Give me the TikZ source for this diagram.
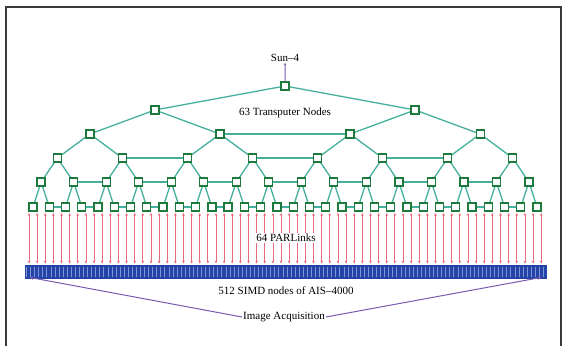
\documentclass[tikz,border=0pt]{standalone}
\usepackage{fontspec}
\setmainfont{Liberation Serif}
\usetikzlibrary{arrows.meta,calc}
\definecolor{sqgreen}{HTML}{1E7A3C}
\definecolor{edgeteal}{HTML}{45B09E}
\definecolor{linkred}{HTML}{E86A7E}
\definecolor{barblue}{HTML}{2444A8}
\definecolor{barstripe}{HTML}{8094D8}
\definecolor{acqpurple}{HTML}{7A5AB0}
\definecolor{framegray}{HTML}{3A3A3A}
\tikzset{
  sq/.style={draw=sqgreen, fill=white, minimum size=8pt, inner sep=0pt, line width=1.3pt},
  treeedge/.style={draw=edgeteal, line width=1.3pt},
  parlink/.style={draw=linkred, line width=0.8pt, {Stealth[length=2.8pt,width=2.6pt]}-{Stealth[length=2.8pt,width=2.6pt]}},
  acq/.style={draw=acqpurple, line width=1pt},
  lbl/.style={font=\fontsize{11}{13}\selectfont, text=black, inner sep=1pt}
}
\begin{document}
\begin{tikzpicture}[x=1pt,y=-1pt]
\useasboundingbox (0,0) rectangle (566,346);
\fill[white] (0,0) rectangle (566,346);
% frame
\draw[framegray, line width=1.6pt] (6,346) -- (6,7) -- (561,7) -- (561,346);
% tree nodes
\foreach \L/\yy in {0/86,1/110,2/134,3/158,4/182,5/207}{
  \pgfmathtruncatemacro{\nmax}{2^\L-1}
  \foreach \i in {0,...,\nmax}{
    \pgfmathsetmacro{\w}{16.26*2^(5-\L)}
    \pgfmathsetmacro{\xx}{33+(\w-16.26)/2+\i*\w}
    \coordinate (c-\L-\i) at (\xx,\yy);
  }
}
% tree edges
\foreach \L in {0,...,4}{
  \pgfmathtruncatemacro{\nmax}{2^\L-1}
  \pgfmathtruncatemacro{\Lc}{\L+1}
  \foreach \i in {0,...,\nmax}{
    \pgfmathtruncatemacro{\a}{2*\i}
    \pgfmathtruncatemacro{\b}{2*\i+1}
    \draw[treeedge] (c-\L-\i) -- (c-\Lc-\a);
    \draw[treeedge] (c-\L-\i) -- (c-\Lc-\b);
  }
}
% horizontal cross links
\foreach \L in {2,...,5}{
  \pgfmathtruncatemacro{\kmax}{2^(\L-1)-2}
  \foreach \k in {0,...,\kmax}{
    \pgfmathtruncatemacro{\a}{2*\k+1}
    \pgfmathtruncatemacro{\b}{2*\k+2}
    \draw[treeedge] (c-\L-\a) -- (c-\L-\b);
  }
}
% squares on top
\foreach \L in {0,...,5}{
  \pgfmathtruncatemacro{\nmax}{2^\L-1}
  \foreach \i in {0,...,\nmax}{
    \node[sq] (n-\L-\i) at (c-\L-\i) {};
  }
}
% Sun-4
\node[lbl] (sun) at (285,58) {Sun–4};
\draw[acq, -{Stealth[length=2.5pt,width=2.5pt]}] (n-0-0.north) -- (sun.south);
\node[lbl] (tn) at (285,113) {63 Transputer Nodes};
% SIMD bar
\node[draw=barblue, fill=barblue, minimum width=521pt, minimum height=13pt, inner sep=0pt, line width=0.8pt] (bar) at (285.5,271.5) {};
\foreach \s in {0,...,127}{
  \draw[barstripe, line width=1pt] ($(bar.north west)+(2+\s*4.07,2)$) -- ($(bar.south west)+(2+\s*4.07,-1.5)$);
}
% PAR links
\foreach \j in {0,...,63}{
  \pgfmathsetmacro{\xx}{29+\j*8.13}
  \coordinate (pt-\j) at (\xx,213);
  \coordinate (pb-\j) at (\xx,263.5);
  \draw[parlink] (pt-\j) -- (pb-\j);
}
\node[lbl, fill=white] (par) at (286,238) {64 PARLinks};
\node[lbl] (simd) at (286,291) {512 SIMD nodes of AIS–4000};
\node[lbl] (acqt) at (284,317) {Image Acquisition};
\draw[acq, -{Stealth[length=3.5pt,width=3.5pt]}] (acqt.west) -- ($(bar.south west)+(5,-1)$);
\draw[acq, -{Stealth[length=3.5pt,width=3.5pt]}] (acqt.east) -- ($(bar.south east)+(-5,-1)$);
\end{tikzpicture}
\end{document}
